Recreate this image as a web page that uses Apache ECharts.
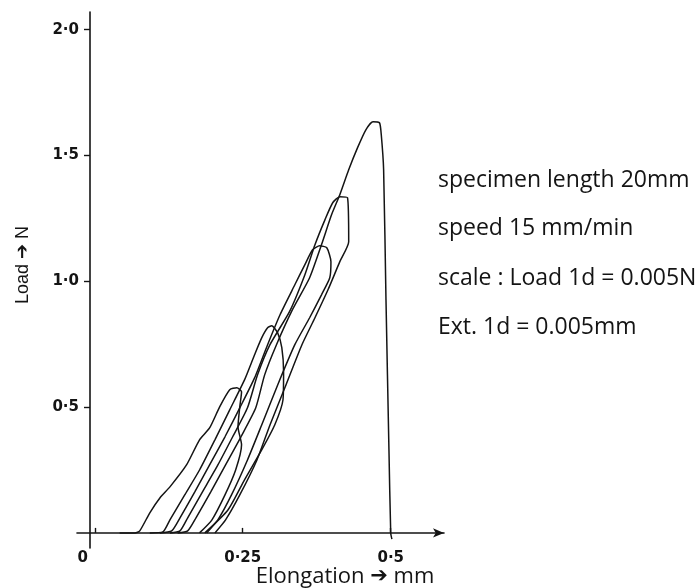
<!DOCTYPE html>
<html>
<head>
<meta charset="utf-8">
<title>Load - Elongation</title>
<script src="https://cdn.jsdelivr.net/npm/echarts@6/dist/echarts.min.js"></script>
<style>
  html, body { margin: 0; padding: 0; background: #fff; }
  #chart { width: 698px; height: 588px; }
</style>
</head>
<body>
<div id="chart"></div>
<script>
// [elongation mm, load N], one array per load/unload cycle
const cycle1 = [[0.042,0],[0.068,0],[0.076,0.008],[0.093,0.080],[0.110,0.139],[0.127,0.183],[0.155,0.270],[0.177,0.370],[0.194,0.417],[0.211,0.501],[0.228,0.569],[0.240,0.577],[0.248,0.561],
  [0.245,0.501],[0.242,0.421],[0.248,0.350],[0.238,0.250],[0.220,0.151],[0.198,0.052],[0.177,0]]
const cycle2 = [[0.093,0],[0.115,0.004],[0.127,0.052],[0.152,0.151],[0.177,0.250],[0.203,0.370],[0.228,0.489],[0.253,0.608],[0.270,0.708],[0.282,0.775],[0.292,0.815],[0.299,0.823],
  [0.309,0.795],[0.316,0.736],[0.319,0.640],[0.318,0.529],[0.304,0.429],[0.282,0.330],[0.253,0.211],[0.225,0.091],[0.186,0]]
const cycle3 = [[0.110,0],[0.130,0.008],[0.144,0.060],[0.169,0.163],[0.194,0.270],[0.220,0.382],[0.245,0.497],[0.270,0.616],[0.292,0.748],[0.313,0.867],[0.338,0.986],[0.355,1.066],[0.368,1.125],[0.380,1.141],[0.392,1.133],
  [0.399,1.078],[0.397,1.014],[0.383,0.946],[0.363,0.855],[0.338,0.748],[0.309,0.588],[0.282,0.429],[0.258,0.290],[0.231,0.151],[0.208,0.052],[0.189,0]]
const cycle4 = [[0.127,0],[0.144,0.008],[0.157,0.060],[0.182,0.163],[0.208,0.270],[0.233,0.382],[0.258,0.497],[0.275,0.628],[0.296,0.748],[0.329,0.879],[0.355,1.026],[0.372,1.145],[0.389,1.245],[0.402,1.312],[0.414,1.336],[0.427,1.332],
  [0.429,1.157],[0.414,1.078],[0.394,0.966],[0.372,0.855],[0.350,0.748],[0.323,0.588],[0.296,0.429],[0.274,0.290],[0.245,0.151],[0.221,0.052],[0.203,0]]
// last loading up to break, then the drop
const cycle5 = [[0.140,0],[0.157,0.008],[0.171,0.060],[0.196,0.163],[0.221,0.270],[0.247,0.382],[0.272,0.497],[0.287,0.628],[0.307,0.748],[0.334,0.887],[0.363,1.014],[0.383,1.145],[0.400,1.264],[0.414,1.344],[0.429,1.443],[0.444,1.531],[0.458,1.602],[0.470,1.634],[0.481,1.630],
  [0.484,1.583],[0.488,1.443],[0.492,0.926],[0.497,0.330],[0.500,0],[0.502,-0.025]]

const xTickValues = [0, 0.25, 0.5]
const xTickLabels = ['0', '0·25', '0·5']
const yTickValues = [0.5, 1, 1.5, 2]
const yTickLabels = ['0·5', '1·0', '1·5', '2·0']

const notes = ['specimen length 20mm', 'speed 15 mm/min', 'scale : Load 1d = 0.005N', 'Ext. 1d = 0.005mm']

const ink = '#141414'
const tickFont = { color: ink, fontSize: 15, fontWeight: 'bold', fontFamily: 'DejaVu Sans' }

const chart = echarts.init(document.getElementById('chart'))

const option = {
  backgroundColor: '#fff',
  animation: false,
  grid: { left: 77, top: 12, width: 367, height: 536 },
  xAxis: {
    type: 'value',
    min: -0.03,
    max: 0.59,
    axisLine: {
      onZero: true,
      symbol: ['none', 'arrow'],
      symbolSize: [7, 11],
      lineStyle: { color: ink, width: 1.6 }
    },
    axisTick: {
      customValues: xTickValues,
      inside: true,
      length: 5,
      lineStyle: { color: ink, width: 1.4 }
    },
    axisLabel: {
      customValues: xTickValues,
      margin: 3,
      ...tickFont,
      formatter: v => v === 0 ? '{o|0}' : xTickLabels[xTickValues.indexOf(v)],
      rich: { o: { ...tickFont, padding: [0, 24, 0, 0] } }
    },
    splitLine: { show: false }
  },
  yAxis: {
    type: 'value',
    min: -0.06,
    max: 2.07,
    offset: -13,
    axisLine: {
      onZero: false,
      lineStyle: { color: ink, width: 1.6 }
    },
    axisTick: {
      customValues: yTickValues,
      length: 6,
      lineStyle: { color: ink, width: 1.4 }
    },
    axisLabel: {
      customValues: yTickValues,
      margin: 11,
      ...tickFont,
      formatter: v => yTickLabels[yTickValues.indexOf(v)]
    },
    splitLine: { show: false }
  },
  series: [cycle1, cycle2, cycle3, cycle4, cycle5].map(d => ({
    type: 'line',
    data: d,
    symbol: 'none',
    smooth: 0.2,
    silent: true,
    lineStyle: { color: ink, width: 1.5 }
  })),
  graphic: [
    {
      type: 'text',
      x: 23,
      y: 265,
      rotation: Math.PI / 2,
      style: {
        text: 'Load {a|➔} N',
        fill: ink,
        font: '18px "Liberation Sans"',
        align: 'center',
        verticalAlign: 'middle',
        rich: { a: { font: 'bold 18px "DejaVu Sans"', fill: ink } }
      }
    },
    {
      type: 'text',
      x: 345,
      y: 577,
      style: {
        text: 'Elongation {a|➔} mm',
        fill: ink,
        font: '22px "Open Sans"',
        align: 'center',
        verticalAlign: 'middle',
        rich: { a: { font: 'bold 21px "DejaVu Sans"', fill: ink } }
      }
    },
    ...notes.map((t, i) => ({
      type: 'text',
      x: 438,
      y: [180, 228, 278, 327][i],
      style: { text: t, fill: ink, font: '23px "Open Sans"', align: 'left', verticalAlign: 'middle' }
    }))
  ]
}

chart.setOption(option)
</script>
</body>
</html>
